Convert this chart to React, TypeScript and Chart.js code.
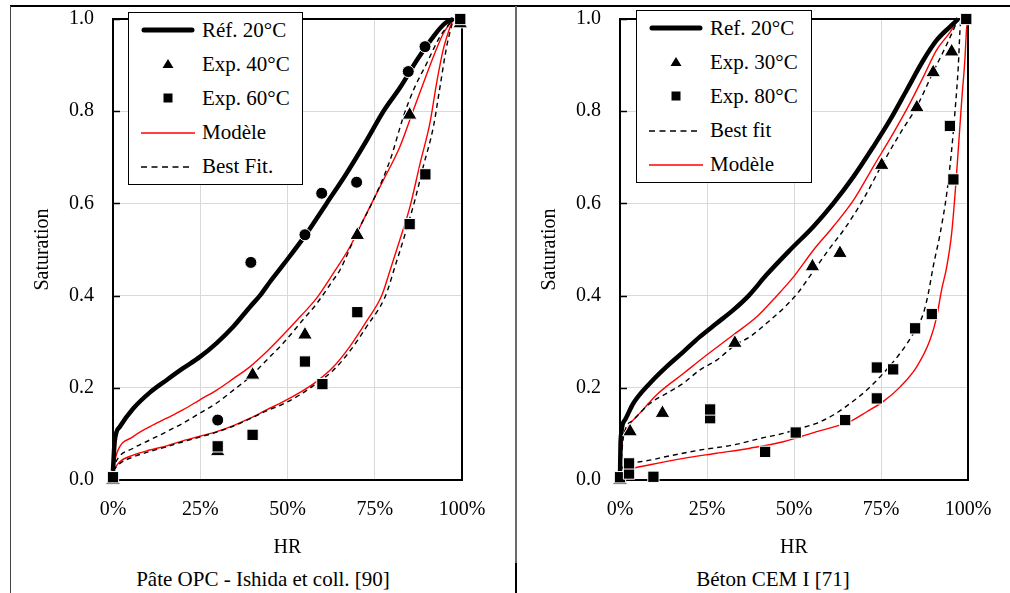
import React, { useEffect, useRef } from "react";
import { Chart, registerables } from "chart.js";
Chart.register(...registerables);

const FONT = "'Liberation Serif', 'Times New Roman', serif";
const RED = "#ff0000";

// ---------- Left chart: Pâte OPC - Ishida et coll. [90] ----------
const L_refHR = [0, 0.005, 0.02, 0.058, 0.106, 0.154, 0.2, 0.249, 0.297, 0.345, 0.393, 0.421, 0.45, 0.488, 0.555, 0.612, 0.669, 0.727, 0.775, 0.824, 0.871, 0.918, 0.95, 0.975];
const L_refSat = [0.02, 0.085, 0.116, 0.155, 0.19, 0.217, 0.242, 0.267, 0.297, 0.333, 0.376, 0.4, 0.43, 0.467, 0.535, 0.6, 0.665, 0.737, 0.8, 0.853, 0.911, 0.962, 0.99, 1.0];

const L_modUpHR = [0, 0.011, 0.058, 0.106, 0.154, 0.2, 0.249, 0.297, 0.345, 0.393, 0.44, 0.488, 0.536, 0.584, 0.631, 0.679, 0.727, 0.775, 0.822, 0.861, 0.889, 0.918, 0.946, 0.975];
const L_modUpSat = [0.02, 0.058, 0.094, 0.116, 0.134, 0.152, 0.174, 0.195, 0.22, 0.246, 0.278, 0.315, 0.354, 0.395, 0.448, 0.506, 0.579, 0.651, 0.723, 0.803, 0.86, 0.918, 0.968, 1.0];

const L_fitUpHR = [0, 0.011, 0.058, 0.106, 0.154, 0.2, 0.249, 0.297, 0.345, 0.393, 0.44, 0.488, 0.536, 0.584, 0.631, 0.65, 0.698, 0.746, 0.794, 0.832, 0.861, 0.899, 0.937, 0.975];
const L_fitUpSat = [0.02, 0.043, 0.069, 0.087, 0.105, 0.123, 0.145, 0.167, 0.195, 0.224, 0.26, 0.297, 0.34, 0.383, 0.434, 0.455, 0.535, 0.607, 0.694, 0.788, 0.846, 0.904, 0.962, 1.0];

const L_modLoHR = [0, 0.02, 0.058, 0.106, 0.154, 0.2, 0.249, 0.297, 0.345, 0.393, 0.44, 0.488, 0.536, 0.584, 0.631, 0.679, 0.727, 0.77, 0.794, 0.822, 0.851, 0.88, 0.908, 0.927, 0.946, 0.966, 0.975];
const L_modLoSat = [0.02, 0.04, 0.054, 0.065, 0.074, 0.085, 0.095, 0.105, 0.118, 0.134, 0.152, 0.17, 0.19, 0.214, 0.245, 0.29, 0.345, 0.4, 0.455, 0.521, 0.593, 0.687, 0.774, 0.86, 0.933, 0.983, 1.0];

const L_fitLoHR = [0, 0.02, 0.058, 0.106, 0.154, 0.2, 0.249, 0.297, 0.345, 0.393, 0.44, 0.488, 0.536, 0.584, 0.631, 0.679, 0.727, 0.78, 0.808, 0.832, 0.865, 0.889, 0.918, 0.937, 0.956, 0.975];
const L_fitLoSat = [0.02, 0.036, 0.05, 0.062, 0.072, 0.083, 0.093, 0.104, 0.117, 0.133, 0.15, 0.165, 0.185, 0.21, 0.238, 0.28, 0.333, 0.398, 0.463, 0.521, 0.607, 0.68, 0.766, 0.853, 0.94, 1.0];

const L_circHR = [0.3, 0.395, 0.55, 0.598, 0.698, 0.846, 0.894];
const L_circSat = [0.13, 0.472, 0.532, 0.622, 0.646, 0.886, 0.94];

const L_triHR = [0, 0.3, 0.4, 0.55, 0.7, 0.85, 0.995];
const L_triSat = [0, 0.062, 0.228, 0.315, 0.531, 0.792, 0.99];

const L_sqHR = [0, 0.3, 0.4, 0.55, 0.6, 0.7, 0.85, 0.895, 0.995];
const L_sqSat = [0.006, 0.073, 0.098, 0.257, 0.208, 0.364, 0.555, 0.663, 1.0];

// ---------- Right chart: Béton CEM I [71] ----------
const R_refHR = [0, 0.002, 0.014, 0.038, 0.086, 0.134, 0.182, 0.23, 0.278, 0.326, 0.37, 0.421, 0.49, 0.556, 0.613, 0.671, 0.728, 0.776, 0.824, 0.872, 0.91, 0.948, 0.972];
const R_refSat = [0.007, 0.087, 0.13, 0.166, 0.21, 0.246, 0.278, 0.311, 0.34, 0.369, 0.4, 0.445, 0.5, 0.55, 0.6, 0.658, 0.723, 0.781, 0.846, 0.911, 0.954, 0.983, 1.0];

const R_modUpHR = [0, 0.005, 0.024, 0.057, 0.11, 0.182, 0.249, 0.326, 0.393, 0.445, 0.498, 0.556, 0.613, 0.671, 0.728, 0.785, 0.833, 0.872, 0.91, 0.948, 0.972];
const R_modUpSat = [0.007, 0.072, 0.116, 0.145, 0.188, 0.231, 0.271, 0.315, 0.354, 0.395, 0.44, 0.499, 0.55, 0.607, 0.68, 0.752, 0.817, 0.875, 0.933, 0.971, 1.0];

const R_fitUpHR = [0, 0.01, 0.038, 0.086, 0.134, 0.182, 0.23, 0.278, 0.331, 0.374, 0.421, 0.469, 0.51, 0.553, 0.6, 0.65, 0.7, 0.75, 0.805, 0.853, 0.9, 0.939, 0.972];
const R_fitUpSat = [0.007, 0.094, 0.13, 0.166, 0.188, 0.21, 0.239, 0.26, 0.293, 0.311, 0.34, 0.372, 0.405, 0.45, 0.5, 0.55, 0.61, 0.68, 0.752, 0.81, 0.885, 0.945, 1.0];

const R_fitLoHR = [0, 0.01, 0.029, 0.086, 0.134, 0.23, 0.326, 0.402, 0.469, 0.517, 0.565, 0.613, 0.661, 0.709, 0.756, 0.805, 0.843, 0.872, 0.886, 0.9, 0.92, 0.939, 0.953, 0.963, 0.972, 0.977, 0.98];
const R_fitLoSat = [0.005, 0.03, 0.036, 0.043, 0.051, 0.065, 0.076, 0.09, 0.101, 0.112, 0.123, 0.141, 0.166, 0.195, 0.231, 0.275, 0.318, 0.362, 0.405, 0.463, 0.535, 0.622, 0.716, 0.803, 0.896, 0.976, 1.0];

const R_modLoHR = [0, 0.038, 0.086, 0.182, 0.278, 0.374, 0.469, 0.565, 0.661, 0.709, 0.756, 0.805, 0.853, 0.891, 0.91, 0.924, 0.939, 0.953, 0.963, 0.972, 0.982, 0.991, 0.996, 1.0];
const R_modLoSat = [0.01, 0.025, 0.033, 0.047, 0.058, 0.069, 0.083, 0.105, 0.127, 0.148, 0.17, 0.202, 0.246, 0.304, 0.354, 0.412, 0.463, 0.535, 0.622, 0.716, 0.824, 0.911, 0.98, 1.0];

const R_triHR = [0, 0.029, 0.122, 0.33, 0.553, 0.632, 0.752, 0.853, 0.9, 0.953];
const R_triSat = [0, 0.105, 0.145, 0.297, 0.463, 0.492, 0.683, 0.808, 0.884, 0.929];

const R_sqHR = [0, 0.026, 0.026, 0.096, 0.259, 0.259, 0.417, 0.505, 0.647, 0.738, 0.738, 0.785, 0.848, 0.896, 0.948, 0.958, 0.995];
const R_sqSat = [0.006, 0.014, 0.036, 0.007, 0.134, 0.153, 0.061, 0.103, 0.13, 0.177, 0.244, 0.24, 0.329, 0.36, 0.768, 0.652, 1.0];

const X_TICK_STEP = 0.25;
const Y_TICK_STEP = 0.2;

const zip = (xs: number[], ys: number[]) => xs.map((x, i) => ({ x, y: ys[i] }));

const lineDs = (label: string, xs: number[], ys: number[], color: string, width: number, dash: number[] = []) => ({
  label,
  data: zip(xs, ys),
  showLine: true,
  borderColor: color,
  backgroundColor: color,
  borderWidth: width,
  borderDash: dash,
  pointRadius: 0,
  cubicInterpolationMode: "monotone" as const,
  clip: false as const,
});

const ptDs = (label: string, xs: number[], ys: number[], style: string, r: number) => ({
  label,
  data: zip(xs, ys),
  showLine: false,
  pointStyle: style,
  pointRadius: r,
  pointBackgroundColor: "#000",
  pointBorderColor: "#fff",
  pointBorderWidth: 1,
  clip: false as const,
});

const framePlugin = {
  id: "frame",
  beforeDatasetsDraw(chart: any) {
    const { ctx, chartArea: a, scales } = chart;
    ctx.save();
    ctx.strokeStyle = "#000";
    ctx.lineWidth = 1.5;
    const ys = scales.y;
    ys.ticks.forEach((t: any) => {
      const py = Math.round(ys.getPixelForValue(t.value)) + 0.5;
      ctx.beginPath();
      ctx.moveTo(a.left, py);
      ctx.lineTo(a.left + 7, py);
      ctx.stroke();
    });
    ctx.lineWidth = 2;
    ctx.strokeRect(a.left, a.top, a.right - a.left, a.bottom - a.top);
    ctx.restore();
  },
};

function makeOptions(yWidth: number, yTitlePad: number, padRight: number) {
  return {
    responsive: false,
    animation: false as const,
    devicePixelRatio: 1,
    layout: { padding: { top: 13, bottom: 3, left: 0, right: padRight } },
    plugins: { legend: { display: false }, tooltip: { enabled: false } },
    scales: {
      x: {
        type: "linear" as const,
        min: 0,
        max: 1,
        afterFit: (s: any) => { s.height = 83; },
        afterBuildTicks: (s: any) => {
          const t = [];
          for (let v = 0; v <= 1.0001; v += X_TICK_STEP) t.push({ value: +v.toFixed(2) });
          s.ticks = t;
        },
        ticks: {
          color: "#000",
          font: { family: FONT, size: 20 },
          padding: 0,
          callback: (v: any) => Math.round(v * 100) + "%",
        },
        grid: { color: "#d9d9d9", lineWidth: 1, drawTicks: true, tickLength: 18, tickColor: "rgba(0,0,0,0)" },
        border: { display: false },
        title: { display: true, text: "HR", color: "#000", font: { family: FONT, size: 20 }, padding: { top: 0, bottom: 3 } },
      },
      y: {
        type: "linear" as const,
        min: 0,
        max: 1,
        afterFit: (s: any) => { s.width = yWidth; },
        afterBuildTicks: (s: any) => {
          const t = [];
          for (let v = 0; v <= 1.0001; v += Y_TICK_STEP) t.push({ value: +v.toFixed(2) });
          s.ticks = t;
        },
        ticks: {
          color: "#000",
          font: { family: FONT, size: 20 },
          padding: 0,
          callback: (v: any) => Number(v).toFixed(1),
        },
        grid: { color: "#d9d9d9", lineWidth: 1, drawTicks: true, tickLength: 19, tickColor: "rgba(0,0,0,0)" },
        border: { display: false },
        title: { display: true, text: "Saturation", color: "#000", font: { family: FONT, size: 20 }, padding: { top: yTitlePad, bottom: 0 } },
      },
    },
  };
}

function ChartCanvas({ width, height, datasets, yWidth, yTitlePad, padRight, style }: any) {
  const ref = useRef<HTMLCanvasElement | null>(null);
  useEffect(() => {
    if (!ref.current) return;
    const chart = new Chart(ref.current, {
      type: "scatter",
      data: { datasets },
      options: makeOptions(yWidth, yTitlePad, padRight) as any,
      plugins: [framePlugin],
    });
    return () => chart.destroy();
  }, []);
  return <canvas ref={ref} width={width} height={height} style={{ position: "absolute", width, height, ...style }} />;
}

function Swatch({ kind }: { kind: string }) {
  const w = 54, h = 20;
  let el: any = null;
  if (kind === "thick") el = <line x1={3} y1={10} x2={51} y2={10} stroke="#000" strokeWidth={5} strokeLinecap="round" />;
  else if (kind === "red") el = <line x1={0} y1={10} x2={54} y2={10} stroke={RED} strokeWidth={1.5} />;
  else if (kind === "dash") el = <line x1={0} y1={10} x2={50} y2={10} stroke="#000" strokeWidth={1.5} strokeDasharray="6,4.5" />;
  else if (kind === "tri") el = <polygon points="27,5 32.5,14 21.5,14" fill="#000" />;
  else if (kind === "sq") el = <rect x={22.5} y={5.5} width={9} height={9} fill="#000" />;
  return <svg width={w} height={h} style={{ display: "block" }}>{el}</svg>;
}

function Legend({ items, style }: any) {
  return (
    <div style={{ position: "absolute", background: "#fff", border: "1.5px solid #000", boxSizing: "border-box", fontFamily: FONT, fontSize: 21, color: "#000", ...style }}>
      {items.map((it: any, i: number) => (
        <div key={i} style={{ display: "flex", alignItems: "center", height: 34.2, paddingLeft: 12 }}>
          <Swatch kind={it.kind} />
          <span style={{ marginLeft: 7, whiteSpace: "nowrap", lineHeight: "21px" }}>{it.text}</span>
        </div>
      ))}
    </div>
  );
}

const L_legend = [
  { kind: "thick", text: "Réf. 20°C" },
  { kind: "tri", text: "Exp. 40°C" },
  { kind: "sq", text: "Exp. 60°C" },
  { kind: "red", text: "Modèle" },
  { kind: "dash", text: "Best Fit." },
];
const R_legend = [
  { kind: "thick", text: "Ref. 20°C" },
  { kind: "tri", text: "Exp. 30°C" },
  { kind: "sq", text: "Exp. 80°C" },
  { kind: "dash", text: "Best fit" },
  { kind: "red", text: "Modèle" },
];

export default function App() {
  const leftDatasets = [
    ptDs("Exp. 60°C", L_sqHR, L_sqSat, "rect", 8),
    ptDs("Exp. 40°C", L_triHR, L_triSat, "triangle", 8.5),
    ptDs("Exp. 20°C", L_circHR, L_circSat, "circle", 6),
    lineDs("Réf. 20°C", L_refHR, L_refSat, "#000", 4.5),
    lineDs("Best Fit. (40°C)", L_fitUpHR, L_fitUpSat, "#000", 1.4, [5, 4]),
    lineDs("Best Fit. (60°C)", L_fitLoHR, L_fitLoSat, "#000", 1.4, [5, 4]),
    lineDs("Modèle (40°C)", L_modUpHR, L_modUpSat, RED, 1.4),
    lineDs("Modèle (60°C)", L_modLoHR, L_modLoSat, RED, 1.4),
  ];
  const rightDatasets = [
    ptDs("Exp. 80°C", R_sqHR, R_sqSat, "rect", 8),
    ptDs("Exp. 30°C", R_triHR, R_triSat, "triangle", 8.5),
    lineDs("Ref. 20°C", R_refHR, R_refSat, "#000", 4.5),
    lineDs("Best fit (30°C)", R_fitUpHR, R_fitUpSat, "#000", 1.4, [5, 4]),
    lineDs("Best fit (80°C)", R_fitLoHR, R_fitLoSat, "#000", 1.4, [5, 4]),
    lineDs("Modèle (30°C)", R_modUpHR, R_modUpSat, RED, 1.4),
    lineDs("Modèle (80°C)", R_modLoHR, R_modLoSat, RED, 1.4),
  ];
  const caption: any = { position: "absolute", top: 566, height: 27, lineHeight: "27px", fontFamily: FONT, fontSize: 21, color: "#000", textAlign: "center", whiteSpace: "nowrap" };
  return (
    <div style={{ position: "absolute", left: 0, top: 0, width: 1010, height: 593, background: "#fff", overflow: "hidden" }}>
      <div style={{ position: "absolute", left: 10, top: 5, width: 1000, height: 2, background: "#000" }} />
      <div style={{ position: "absolute", left: 10, top: 6, width: 1, height: 587, background: "#444" }} />
      <div style={{ position: "absolute", left: 515, top: 6, width: 2, height: 557, background: "#6a6a6a" }} />
      <div style={{ position: "absolute", left: 515, top: 563, width: 2, height: 30, background: "#000" }} />
      <ChartCanvas width={505} height={560} datasets={leftDatasets} yWidth={103} yTitlePad={21} padRight={53} style={{ left: 10, top: 6 }} />
      <ChartCanvas width={494} height={560} datasets={rightDatasets} yWidth={104} yTitlePad={22} padRight={42} style={{ left: 516, top: 6 }} />
      <Legend items={L_legend} style={{ left: 128, top: 12, width: 175, height: 173 }} />
      <Legend items={R_legend} style={{ left: 636, top: 10, width: 176, height: 173 }} />
      <div style={{ ...caption, left: 10, width: 506 }}>Pâte OPC - Ishida et coll. [90]</div>
      <div style={{ ...caption, left: 520, width: 506 }}>Béton CEM I [71]</div>
    </div>
  );
}
